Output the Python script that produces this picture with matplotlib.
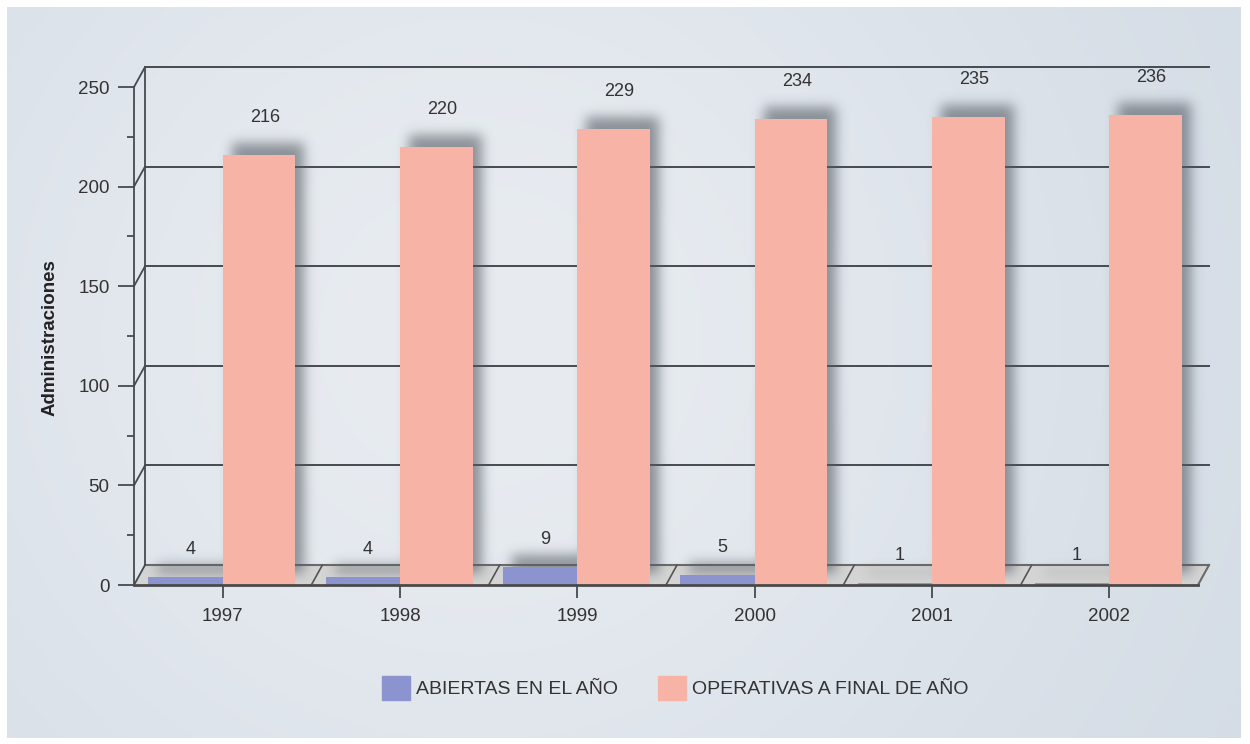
import numpy as np
import matplotlib.pyplot as plt
from matplotlib.patches import Polygon, Rectangle

plt.rcParams['font.family'] = ['Liberation Sans', 'DejaVu Sans']

years = ['1997', '1998', '1999', '2000', '2001', '2002']
abiertas = [4, 4, 9, 5, 1, 1]
operativas = [216, 220, 229, 234, 235, 236]
series_names = ['ABIERTAS EN EL AÑO', 'OPERATIVAS A FINAL DE AÑO']

blue = '#8C94CF'
pink = '#F7B4A6'
ink = '#333333'
line = '#454a50'

W, H = 1250, 744
DX, DY = 0.062, 10.0          # depth of the back wall in data units
BW_BLUE, BW_PINK = 0.42, 0.41

fig = plt.figure(figsize=(W / 100, H / 100), dpi=100, facecolor='white')

# soft gradient panel behind everything
bg = fig.add_axes([0, 0, 1, 1])
bg.set_xlim(0, W)
bg.set_ylim(H, 0)
bg.axis('off')
gx, gy = np.meshgrid(np.linspace(0, 1, 400), np.linspace(0, 1, 240))
t = np.exp(-((gx - 0.38) / 0.55) ** 2 - ((gy - 0.45) / 0.9) ** 2)
c_edge = np.array([208, 217, 227]) / 255
c_mid = np.array([232, 236, 241]) / 255
grad = c_edge + (c_mid - c_edge) * t[..., None]
bg.imshow(grad, extent=[7, 1241, 738, 7], aspect='auto', interpolation='bilinear')

ax = fig.add_axes([134 / W, (H - 585) / H, (1198 - 134) / W, (585 - 87) / H])
ax.patch.set_visible(False)
x = np.arange(len(years))

# floor
floor = Polygon([(-0.5, 0), (5.5, 0), (5.5 + DX, DY), (-0.5 + DX, DY)],
                closed=True, facecolor='#d4d4d4', edgecolor='none', zorder=1, clip_on=False)
ax.add_patch(floor)
ax.plot([-0.5 + DX, 5.5 + DX], [DY, DY], color='#6a6a6a', lw=1.5, zorder=1.2, clip_on=False)
ax.plot([5.5, 5.5 + DX], [0, DY], color='#6a6a6a', lw=1.5, zorder=1.2, clip_on=False)
ax.plot([-0.5, -0.5 + DX], [0, DY], color=line, lw=1.3, zorder=1.2, clip_on=False)
for b in x[:-1] + 0.5:
    ax.plot([b, b + DX], [0, DY], color='#555555', lw=1.2, zorder=1.2, clip_on=False)

# back wall: grid lines and the links to the front axis
ax.plot([-0.5 + DX] * 2, [DY, 250 + DY], color=line, lw=1.3, zorder=1.5, clip_on=False)
for v in range(50, 251, 50):
    ax.plot([-0.5 + DX, 5.5 + DX], [v + DY] * 2, color=line, lw=1.4, zorder=1.5, clip_on=False)
    ax.plot([-0.5, -0.5 + DX], [v, v + DY], color=line, lw=1.3, zorder=1.5, clip_on=False)

ax.bar(x, abiertas, width=-BW_BLUE, align='edge', color=blue, zorder=3)
ax.bar(x, operativas, width=BW_PINK, align='edge', color=pink, zorder=3)

ax.set_xlim(-0.5, 5.5)
ax.set_ylim(0, 250)


def bar_shadows(rects, dx=9, dy=12, sigma=6.0, alpha=0.62):
    mask = np.zeros((H, W))
    for x0, y0, x1, y1 in rects:
        (px0, py0), (px1, py1) = ax.transData.transform([(x0, y0), (x1, y1)])
        c0, c1 = int(round(px0 + dx)), int(round(px1 + dx))
        r0, r1 = int(round(H - py1 - dy)), int(round(H - py0 - dy))
        mask[max(r0, 0):r1, max(c0, 0):c1] = 1.0
    k = np.arange(-int(3 * sigma), int(3 * sigma) + 1)
    g = np.exp(-k ** 2 / (2 * sigma ** 2))
    g /= g.sum()
    mask = np.apply_along_axis(lambda r: np.convolve(r, g, mode='same'), 1, mask)
    mask = np.apply_along_axis(lambda c: np.convolve(c, g, mode='same'), 0, mask)
    rgba = np.zeros((H, W, 4))
    rgba[..., :3] = np.array([84, 90, 98]) / 255
    rgba[..., 3] = mask * alpha
    return rgba


rects = [(i - BW_BLUE, 0, i, v) for i, v in zip(x, abiertas)]
rects += [(i, 0, i + BW_PINK, v) for i, v in zip(x, operativas)]
shade = bar_shadows(rects)
inv = ax.transData.inverted()
(xa, ya), (xb, yb) = inv.transform([(0, 0), (W, H)])
im = ax.imshow(shade, extent=[xa, xb, ya, yb], origin='upper', aspect='auto',
               zorder=2, interpolation='nearest')
im.set_clip_on(False)
ax.set_xlim(-0.5, 5.5)
ax.set_ylim(0, 250)

# value labels
for i, v in zip(x, abiertas):
    ax.annotate(str(v), (i - BW_BLUE / 2, v), xytext=(5, 28), textcoords='offset pixels',
                ha='center', va='center', fontsize=13, color=ink, zorder=4)
for i, v in zip(x, operativas):
    ax.annotate(str(v), (i + BW_PINK / 2, v), xytext=(6, 37), textcoords='offset pixels',
                ha='center', va='center', fontsize=13, color=ink, zorder=4)

# axes styling
for s in ['top', 'right']:
    ax.spines[s].set_visible(False)
ax.spines['left'].set_color(line)
ax.spines['left'].set_linewidth(1.3)
ax.spines['bottom'].set_color('#4a4a4a')
ax.spines['bottom'].set_linewidth(2)
ax.spines['bottom'].set_zorder(3.5)
ax.set_yticks(range(0, 251, 50))
ax.set_yticks(range(25, 250, 50), minor=True)
ax.set_xticks(x)
ax.set_xticklabels(years)
ax.tick_params(axis='y', which='major', direction='out', length=11.5, width=1.3, color=line,
               labelsize=13.5, labelcolor=ink, pad=6)
ax.tick_params(axis='y', which='minor', direction='out', length=5, width=1.3, color=line)
ax.tick_params(axis='x', direction='out', length=9.5, width=1.3, color=line,
               labelsize=13.5, labelcolor=ink, pad=7)

fig.text(50 / W, 1 - 338 / H, 'Administraciones', rotation=90, ha='center', va='center',
         fontsize=13.5, fontweight='bold', color='#222222')

handles = [Rectangle((0, 0), 1, 1, color=blue), Rectangle((0, 0), 1, 1, color=pink)]
fig.legend(handles, series_names, loc='center', bbox_to_anchor=(675 / W, 1 - 688 / H),
           ncol=2, frameon=False, fontsize=14, handlelength=1.44, handleheight=1.6,
           handletextpad=0.31, columnspacing=2.06, labelcolor=ink)

fig.savefig('out.png', dpi=100, facecolor='white')
